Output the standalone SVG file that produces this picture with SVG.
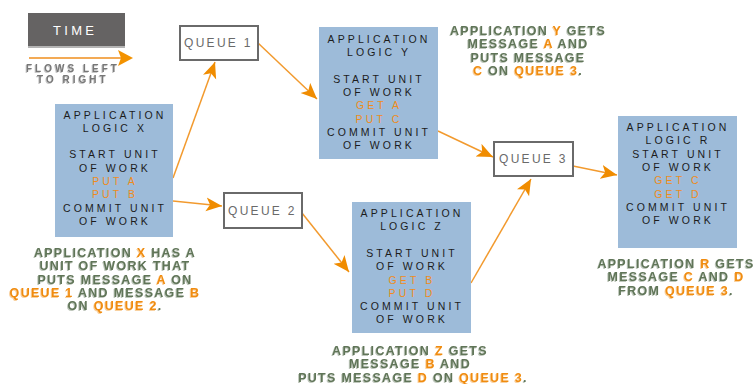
<svg xmlns="http://www.w3.org/2000/svg" width="755" height="384" viewBox="0 0 755 384">
<defs>
<style>
.box{fill:#9dbbd9;}
.bt{font-family:"Liberation Sans",Arial,sans-serif;font-size:10.5px;letter-spacing:3.1px;fill:#1c1c1c;text-anchor:middle;}
.bo{fill:#ee8c1c;}
.q{fill:#ffffff;stroke:#6a6a6a;stroke-width:2;}
.qt{font-family:"Liberation Sans",Arial,sans-serif;font-size:12px;letter-spacing:2.3px;fill:#6a6a6a;}
.cap{font-family:"Liberation Sans",Arial,sans-serif;font-size:12.5px;font-weight:bold;letter-spacing:1.3px;fill:#607558;text-anchor:middle;}
.co{fill:#f08c10;}
.con{fill:none;stroke:#f29a2e;stroke-width:1.5;marker-end:url(#ah);}
</style>
<marker id="ah" markerUnits="userSpaceOnUse" markerWidth="18" markerHeight="16" refX="16" refY="7" orient="auto" viewBox="0 0 18 16">
<path d="M0,0 L16,7 L0,14 L4,7 Z" fill="#f08c00"/>
</marker>
<filter id="sh" x="-5%" y="-20%" width="110%" height="140%" color-interpolation-filters="sRGB">
<feOffset in="SourceGraphic" dx="-1" dy="1" result="o"/>
<feComponentTransfer in="o" result="l">
<feFuncR type="linear" slope="0.4" intercept="0.6"/>
<feFuncG type="linear" slope="0.4" intercept="0.6"/>
<feFuncB type="linear" slope="0.4" intercept="0.6"/>
</feComponentTransfer>
<feMerge><feMergeNode in="l"/><feMergeNode in="SourceGraphic"/></feMerge>
</filter>
</defs>

<g id="time">
<rect x="28" y="13" width="97" height="33" fill="#656363"/>
<rect x="28" y="46" width="97" height="2" fill="#b4b4b4"/>
<text x="53" y="35" font-family="Liberation Sans,Arial,sans-serif" font-size="13" letter-spacing="3.3" fill="#ffffff">TIME</text>
<line x1="29" y1="58" x2="121" y2="58" stroke="#f3aa55" stroke-width="2"/>
<path d="M118,50 L133,58 L118,66 L121,58 Z" fill="#f39200"/>
<g filter="url(#sh)" font-family="Liberation Sans,Arial,sans-serif" font-size="10" font-weight="bold" letter-spacing="3" fill="#777777">
<text x="26" y="72">FLOWS LEFT</text>
<text x="37" y="83">TO RIGHT</text>
</g>
</g>

<g id="connectors">
<line class="con" x1="173" y1="178" x2="215" y2="62"/>
<line class="con" x1="258" y1="43" x2="317" y2="99"/>
<line class="con" x1="173" y1="201" x2="222" y2="206"/>
<line class="con" x1="302" y1="213" x2="349" y2="272"/>
<line class="con" x1="438" y1="131" x2="493" y2="157"/>
<line class="con" x1="471" y1="283" x2="531" y2="179"/>
<line class="con" x1="573" y1="166" x2="617" y2="175"/>
</g>

<g id="queue1">
<rect class="q" x="180" y="26" width="78" height="34"/>
<text class="qt" x="184" y="47">QUEUE 1</text>
</g>
<g id="queue2">
<rect class="q" x="224" y="193" width="78" height="35"/>
<text class="qt" x="228" y="215">QUEUE 2</text>
</g>
<g id="queue3">
<rect class="q" x="494" y="142" width="79" height="34"/>
<text class="qt" x="499" y="163">QUEUE 3</text>
</g>

<g id="appX">
<rect class="box" x="55" y="104" width="118" height="133"/>
<text class="bt" x="115" y="118.5">APPLICATION</text>
<text class="bt" x="115" y="131.8">LOGIC X</text>
<text class="bt" x="115" y="158.4">START UNIT</text>
<text class="bt" x="115" y="171.7">OF WORK</text>
<text class="bt bo" x="115" y="185">PUT A</text>
<text class="bt bo" x="115" y="198.3">PUT B</text>
<text class="bt" x="115" y="211.6">COMMIT UNIT</text>
<text class="bt" x="115" y="224.9">OF WORK</text>
</g>

<g id="appY">
<rect class="box" x="319" y="27" width="119" height="132"/>
<text class="bt" x="379" y="42.7">APPLICATION</text>
<text class="bt" x="379" y="56">LOGIC Y</text>
<text class="bt" x="379" y="82.6">START UNIT</text>
<text class="bt" x="379" y="95.9">OF WORK</text>
<text class="bt bo" x="379" y="109.2">GET A</text>
<text class="bt bo" x="379" y="122.5">PUT C</text>
<text class="bt" x="379" y="135.8">COMMIT UNIT</text>
<text class="bt" x="379" y="149.1">OF WORK</text>
</g>

<g id="appZ">
<rect class="box" x="352" y="202" width="119" height="131"/>
<text class="bt" x="412" y="217">APPLICATION</text>
<text class="bt" x="412" y="230.3">LOGIC Z</text>
<text class="bt" x="412" y="256.9">START UNIT</text>
<text class="bt" x="412" y="270.2">OF WORK</text>
<text class="bt bo" x="412" y="283.5">GET B</text>
<text class="bt bo" x="412" y="296.8">PUT D</text>
<text class="bt" x="412" y="310.1">COMMIT UNIT</text>
<text class="bt" x="412" y="323.4">OF WORK</text>
</g>

<g id="appR">
<rect class="box" x="618" y="116" width="119" height="132"/>
<text class="bt" x="678" y="131">APPLICATION</text>
<text class="bt" x="678" y="144.3">LOGIC R</text>
<text class="bt" x="678" y="157.6">START UNIT</text>
<text class="bt" x="678" y="170.9">OF WORK</text>
<text class="bt bo" x="678" y="184.2">GET C</text>
<text class="bt bo" x="678" y="197.5">GET D</text>
<text class="bt" x="678" y="210.8">COMMIT UNIT</text>
<text class="bt" x="678" y="224.1">OF WORK</text>
</g>

<g id="noteX" filter="url(#sh)">
<text class="cap" x="115" y="257">APPLICATION <tspan class="co">X</tspan> HAS A</text>
<text class="cap" x="115" y="270.3">UNIT OF WORK THAT</text>
<text class="cap" x="115" y="283.6">PUTS MESSAGE <tspan class="co">A</tspan> ON</text>
<text class="cap" x="105" y="296.9"><tspan class="co">QUEUE 1</tspan> AND MESSAGE <tspan class="co">B</tspan></text>
<text class="cap" x="115" y="310.2">ON <tspan class="co">QUEUE 2</tspan>.</text>
</g>

<g id="noteY" filter="url(#sh)">
<text class="cap" x="528" y="35">APPLICATION <tspan class="co">Y</tspan> GETS</text>
<text class="cap" x="528" y="48.3">MESSAGE <tspan class="co">A</tspan> AND</text>
<text class="cap" x="528" y="61.6">PUTS MESSAGE</text>
<text class="cap" x="528" y="74.9"><tspan class="co">C</tspan> ON <tspan class="co">QUEUE 3</tspan>.</text>
</g>

<g id="noteZ" filter="url(#sh)">
<text class="cap" x="410" y="355">APPLICATION <tspan class="co">Z</tspan> GETS</text>
<text class="cap" x="410" y="368.3">MESSAGE <tspan class="co">B</tspan> AND</text>
<text class="cap" x="413" y="381.6">PUTS MESSAGE <tspan class="co">D</tspan> ON <tspan class="co">QUEUE 3</tspan>.</text>
</g>

<g id="noteR" filter="url(#sh)">
<text class="cap" x="676" y="268">APPLICATION <tspan class="co">R</tspan> GETS</text>
<text class="cap" x="676" y="281.3">MESSAGE <tspan class="co">C</tspan> AND <tspan class="co">D</tspan></text>
<text class="cap" x="676" y="294.6">FROM <tspan class="co">QUEUE 3</tspan>.</text>
</g>
</svg>
